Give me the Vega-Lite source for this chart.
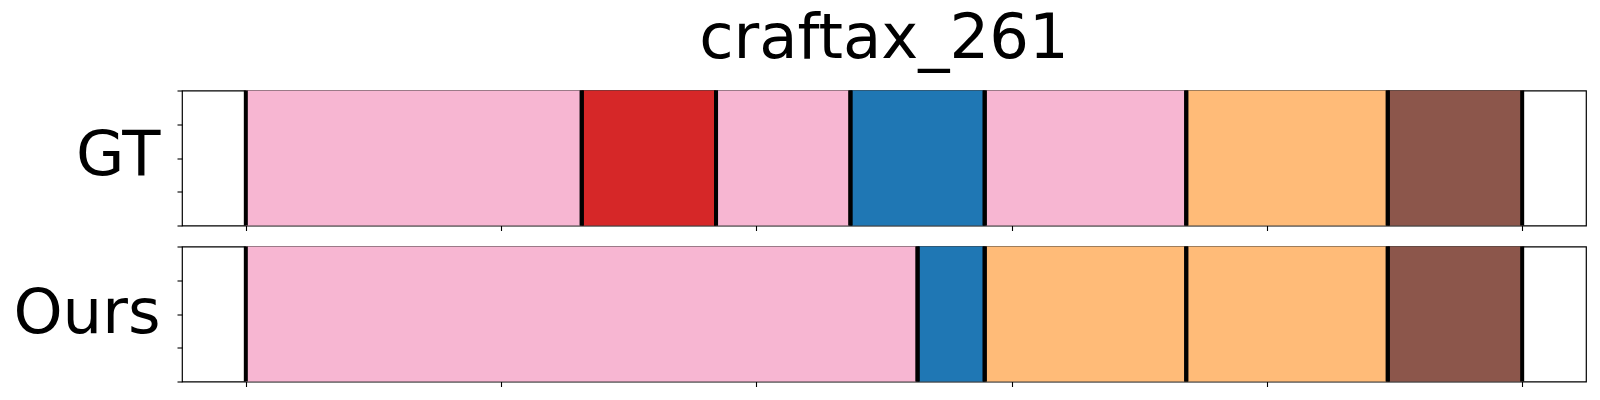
{
  "$schema": "https://vega.github.io/schema/vega-lite/v6.json",
  "padding": {"left": 12, "top": 6.5, "right": 5, "bottom": 5},
  "background": "white",
  "config": {
    "view": {"stroke": "black", "strokeWidth": 1.2},
    "font": "DejaVu Sans",
    "axis": {"domain": false, "grid": false, "labels": false, "ticks": true, "tickColor": "black", "tickSize": 5, "tickWidth": 1.1},
    "title": {"font": "DejaVu Sans", "fontSize": 62.5, "fontWeight": "normal", "color": "black"}
  },
  "datasets": {
    "segs": [
      {"panel": "GT", "start": 0.0, "end": 0.2632, "action": "pink"},
      {"panel": "GT", "start": 0.2632, "end": 0.3684, "action": "red"},
      {"panel": "GT", "start": 0.3684, "end": 0.4737, "action": "pink"},
      {"panel": "GT", "start": 0.4737, "end": 0.5789, "action": "blue"},
      {"panel": "GT", "start": 0.5789, "end": 0.7368, "action": "pink"},
      {"panel": "GT", "start": 0.7368, "end": 0.8947, "action": "orange"},
      {"panel": "GT", "start": 0.8947, "end": 1.0, "action": "brown"},
      {"panel": "Ours", "start": 0.0, "end": 0.5263, "action": "pink"},
      {"panel": "Ours", "start": 0.5263, "end": 0.5789, "action": "blue"},
      {"panel": "Ours", "start": 0.5789, "end": 0.7368, "action": "orange"},
      {"panel": "Ours", "start": 0.7368, "end": 0.8947, "action": "orange"},
      {"panel": "Ours", "start": 0.8947, "end": 1.0, "action": "brown"}
    ]
  },
  "spacing": 11,
  "vconcat": [
    {
      "width": 1404,
      "height": 135,
      "title": {"text": "craftax_261", "baseline": "alphabetic", "offset": -32},
      "data": {"name": "segs"},
      "transform": [{"filter": "datum.panel === 'GT'"}],
      "layer": [
        {
          "mark": {"type": "rect"},
          "encoding": {
            "x": {"field": "start", "type": "quantitative", "scale": {"domain": [-0.05, 1.05], "nice": false, "zero": false},
                  "axis": {"title": null, "values": [0, 0.2, 0.4, 0.6, 0.8, 1.0]}},
            "x2": {"field": "end"},
            "y": {"datum": 0, "type": "quantitative", "scale": {"domain": [0, 4], "nice": false},
                  "axis": {"title": "GT", "values": [0, 1, 2, 3, 4], "titleAngle": 0, "titleFontSize": 62.5, "titleFont": "DejaVu Sans", "titleFontWeight": "normal", "titleColor": "black", "titleAlign": "right", "titleBaseline": "alphabetic", "titleX": -22, "titleY": 84}},
            "y2": {"datum": 4},
            "color": {"field": "action", "type": "nominal", "legend": null,
                      "scale": {"domain": ["pink", "red", "blue", "orange", "brown"], "range": ["#f7b6d2", "#d62728", "#1f77b4", "#ffbb78", "#8c564b"]}}
          }
        },
        {"mark": {"type": "rule", "color": "black", "strokeWidth": 4}, "encoding": {"x": {"field": "start", "type": "quantitative"}}},
        {"mark": {"type": "rule", "color": "black", "strokeWidth": 4}, "encoding": {"x": {"field": "end", "type": "quantitative"}}}
      ]
    },
    {
      "width": 1404,
      "height": 135,
      "data": {"name": "segs"},
      "transform": [{"filter": "datum.panel === 'Ours'"}],
      "layer": [
        {
          "mark": {"type": "rect"},
          "encoding": {
            "x": {"field": "start", "type": "quantitative", "scale": {"domain": [-0.05, 1.05], "nice": false, "zero": false},
                  "axis": {"title": null, "values": [0, 0.2, 0.4, 0.6, 0.8, 1.0]}},
            "x2": {"field": "end"},
            "y": {"datum": 0, "type": "quantitative", "scale": {"domain": [0, 4], "nice": false},
                  "axis": {"title": "Ours", "values": [0, 1, 2, 3, 4], "titleAngle": 0, "titleFontSize": 62.5, "titleFont": "DejaVu Sans", "titleFontWeight": "normal", "titleColor": "black", "titleAlign": "right", "titleBaseline": "alphabetic", "titleX": -22, "titleY": 86}},
            "y2": {"datum": 4},
            "color": {"field": "action", "type": "nominal", "legend": null,
                      "scale": {"domain": ["pink", "red", "blue", "orange", "brown"], "range": ["#f7b6d2", "#d62728", "#1f77b4", "#ffbb78", "#8c564b"]}}
          }
        },
        {"mark": {"type": "rule", "color": "black", "strokeWidth": 4}, "encoding": {"x": {"field": "start", "type": "quantitative"}}},
        {"mark": {"type": "rule", "color": "black", "strokeWidth": 4}, "encoding": {"x": {"field": "end", "type": "quantitative"}}}
      ]
    }
  ]
}
